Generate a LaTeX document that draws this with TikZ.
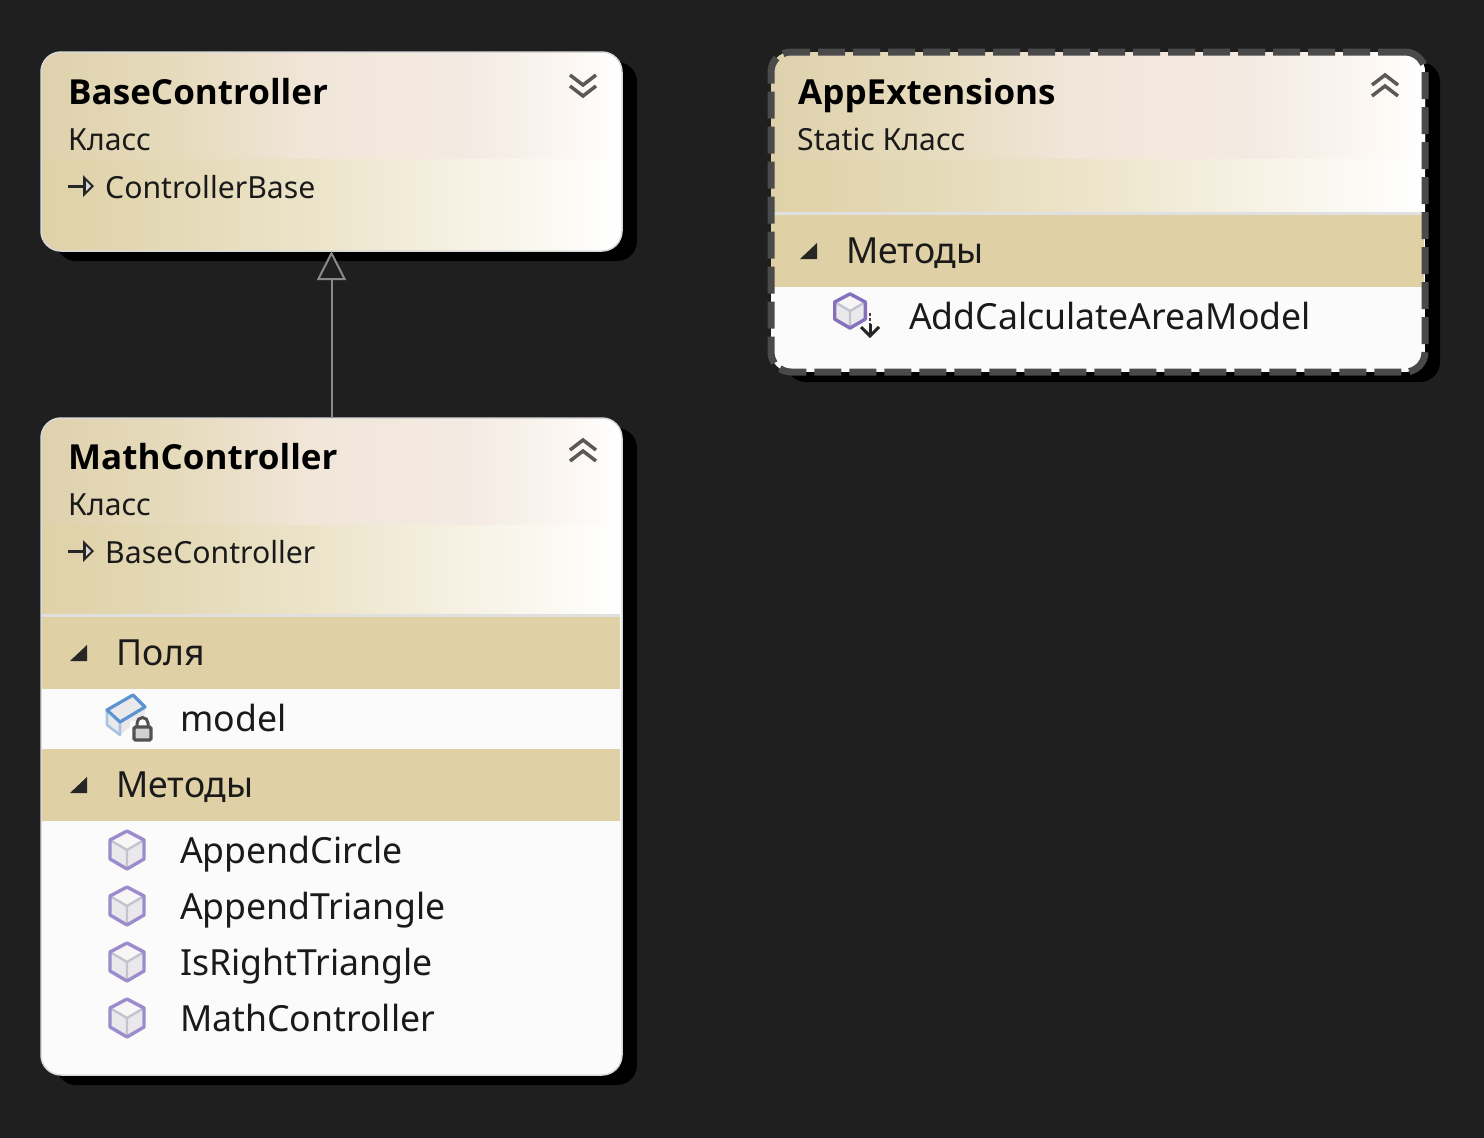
\documentclass[tikz,border=0pt]{standalone}
\usepackage{fontspec}
\setmainfont{Noto Sans}
\newfontfamily\nsf[FakeStretch=0.99]{Noto Sans}
\newfontfamily\nsfb[FakeStretch=1.015]{Open Sans}
\usetikzlibrary{arrows.meta,calc}
\definecolor{bgc}{HTML}{1F1F1F}
\definecolor{secc}{HTML}{DFD0A6}
\definecolor{itemc}{HTML}{FBFBFB}
\definecolor{txtc}{HTML}{1A1A1A}
\definecolor{cubeo}{HTML}{9C8CCB}
\definecolor{cubeod}{HTML}{8570BE}
\definecolor{cubei}{HTML}{C4C2CE}
\definecolor{cubef}{HTML}{E9E9EC}
\definecolor{fieldo}{HTML}{5C93D1}
\definecolor{fieldi}{HTML}{A9C3E0}
\definecolor{linec}{HTML}{8A8A8A}
\definecolor{dashc}{HTML}{4A4A4A}
\pgfdeclarehorizontalshading{hdrtop}{100bp}{
 rgb(0bp)=(1,1,1); rgb(25bp)=(0.875,0.82,0.68);
 rgb(37bp)=(0.90,0.86,0.74);
 rgb(48bp)=(0.945,0.90,0.85);
 rgb(62bp)=(0.955,0.92,0.89);
 rgb(70bp)=(0.985,0.965,0.945);
 rgb(75bp)=(1,1,1); rgb(100bp)=(1,1,1)}
\pgfdeclarehorizontalshading{hdrbot}{100bp}{
 rgb(0bp)=(1,1,1); rgb(25bp)=(0.875,0.82,0.655);
 rgb(37bp)=(0.895,0.855,0.72);
 rgb(50bp)=(0.93,0.90,0.80);
 rgb(60bp)=(0.96,0.94,0.88);
 rgb(75bp)=(1,1,1); rgb(100bp)=(1,1,1)}
\tikzset{
 x=1pt,y=-1pt,
 boxnode/.style={rectangle,inner sep=0pt,outer sep=0pt},
 titletxt/.style={anchor=base west,inner sep=0pt,font=\fontsize{34.5}{40}\selectfont\nsfb\bfseries,text=black},
 subtxt/.style={anchor=base west,inner sep=0pt,font=\fontsize{30.5}{36}\selectfont\nsf,text=txtc},
 itemtxt/.style={anchor=base west,inner sep=0pt,font=\fontsize{36}{40}\selectfont\nsf,text=txtc},
 chev/.style={draw=black!65,line width=3.5pt,line cap=butt,line join=miter},
 cubeic/.pic={
  \fill[cubef] (0,-19)--(17,-10)--(17,9)--(0,19)--(-17,9)--(-17,-10)--cycle;
  \fill[white!60!cubef] (-17,-10)--(0,-19)--(17,-10)--(0,0)--cycle;
  \draw[line width=2.4pt,draw=cubei,line join=round] (-17,-10)--(0,0)--(17,-10) (0,0)--(0,19);
  \draw[line width=3.4pt,draw=cubeo,line join=round] (0,-19)--(17,-10)--(17,9)--(0,19)--(-17,9)--(-17,-10)--cycle;
 },
 trig/.pic={\fill[black!85] (8,-8)--(8,8)--(-9,8)--cycle;},
 inhic/.pic={
  \draw[line width=3pt,black!85] (-13,0)--(6,0);
  \fill[black!85] (2,-11)--(13,0)--(2,11)--cycle;
  \fill[white!85!black] (5,-5)--(10,0)--(5,5)--cycle;
 }
}
\newcommand{\boxbody}[5]{% x1,y1,x2,y2,hdrbottom
 \fill[black,rounded corners=20pt] (#1+15,#2+10) rectangle (#3+15,#4+10);
 \begin{scope}
  \clip[rounded corners=20pt] (#1,#2) rectangle (#3,#4);
  \fill[itemc] (#1,#2) rectangle (#3,#4);
  \shade[shading=hdrbot] (#1,#2) rectangle (#3,#5);
  \shade[shading=hdrtop] (#1,#2) rectangle (#3,#2+106);
 \end{scope}
}
\newcommand{\secbar}[5]{% x1,y1,x2,y2,text
 \fill[secc] (#1,#2) rectangle (#3,#4);
 \path (#1+38,#2/2+#4/2) pic {trig};
 \node[itemtxt] at (#1+75,#2/2+#4/2+12) {#5};
}
\begin{document}
\begin{tikzpicture}
\useasboundingbox (0,0) rectangle (1484,1138);
\fill[bgc] (0,0) rectangle (1484,1138);
% --- BaseController
\boxbody{41}{52}{622}{251}{251}
\node[boxnode,draw=white!85!black,line width=1.5pt,rounded corners=20pt,minimum width=581pt,minimum height=199pt] (base) at (331.5,151.5) {};
\node[titletxt] (baset) at (68,104) {BaseController};
\node[subtxt] (bases) at (68,150) {Класс};
\path (81,186) pic {inhic};
\node[subtxt] (basep) at (105,198) {ControllerBase};
\draw[chev] (570,75)--(583,85)--(596,75) (570,86)--(583,96)--(596,86);
% --- MathController
\boxbody{41}{418}{622}{1075}{615}
\fill[white!88!black] (41,614) rectangle (620,617);
\secbar{41}{617}{620}{689}{Поля}
\secbar{41}{749}{620}{821}{Методы}
\node[boxnode,draw=white!85!black,line width=1.5pt,rounded corners=20pt,minimum width=581pt,minimum height=657pt] (math) at (331.5,746.5) {};
\node[titletxt] (matht) at (68,469) {MathController};
\node[subtxt] (maths) at (68,515) {Класс};
\path (81,551) pic {inhic};
\node[subtxt] (mathp) at (105,563) {BaseController};
\draw[chev] (570,450)--(583,440)--(596,450) (570,461)--(583,451)--(596,461);
% field icon
\begin{scope}[shift={(127,717)}]
 \fill[cubef] (-20,-7)--(6,-22)--(18,-10)--(18,-2)--(-7,18)--(-20,8)--cycle;
 \draw[line width=2.6pt,draw=fieldi,line join=round] (-20,-7)--(-20,8)--(-7,18)--(-7,5);
 \draw[line width=3.2pt,draw=fieldo,line join=round] (-20,-7)--(6,-22)--(18,-10)--(-7,5)--cycle;
 \fill[itemc] (3,4) rectangle (28,25);
 \draw[line width=3.4pt,black!68,fill=white!82!black,rounded corners=1.5pt] (7,10) rectangle (24,23);
 \draw[line width=3pt,black!68] (10,10)--(10,6) arc[start angle=180,end angle=360,radius=5.5]--(21,10);
\end{scope}
\node[itemtxt] (mf) at (180,731) {model};
\path (127,850) pic {cubeic};
\node[itemtxt] (m1) at (180,863) {AppendCircle};
\path (127,906) pic {cubeic};
\node[itemtxt] (m2) at (180,919) {AppendTriangle};
\path (127,962) pic {cubeic};
\node[itemtxt] (m3) at (180,975) {IsRightTriangle};
\path (127,1018) pic {cubeic};
\node[itemtxt] (m4) at (180,1031) {MathController};
% --- AppExtensions
\boxbody{771}{52}{1425}{372}{213}
\fill[white!88!black] (771,212) rectangle (1425,215);
\secbar{771}{215}{1424}{287}{Методы}
\node[boxnode,draw=dashc,line width=7pt,dash pattern=on 27pt off 8pt,rounded corners=20pt,minimum width=654pt,minimum height=320pt] (ext) at (1098,212) {};
\node[titletxt] (extt) at (798,104) {AppExtensions};
\node[subtxt] (exts) at (797,150) {Static Класс};
\draw[chev] (1372,96)--(1385,86)--(1398,96) (1372,85)--(1385,75)--(1398,85);
\begin{scope}
 \colorlet{cubeo}{cubeod}
 \path (850,311) pic[scale=0.9] {cubeic};
\end{scope}
\draw[line width=2.6pt,black!75,dash pattern=on 2.5pt off 2.5pt] (870,313)--(870,324);
\draw[line width=3pt,black!85] (870,324)--(870,336);
\draw[line width=3pt,black!85] (861,327)--(870,336)--(879,327);
\node[itemtxt] (e1) at (909,329) {AddCalculateAreaModel};
% --- connector
\draw[line width=2pt,draw=linec,-{Triangle[open,length=29pt,width=29pt,line width=2pt,fill=bgc]}] (math.north) -- (base.south);
\end{tikzpicture}
\end{document}
